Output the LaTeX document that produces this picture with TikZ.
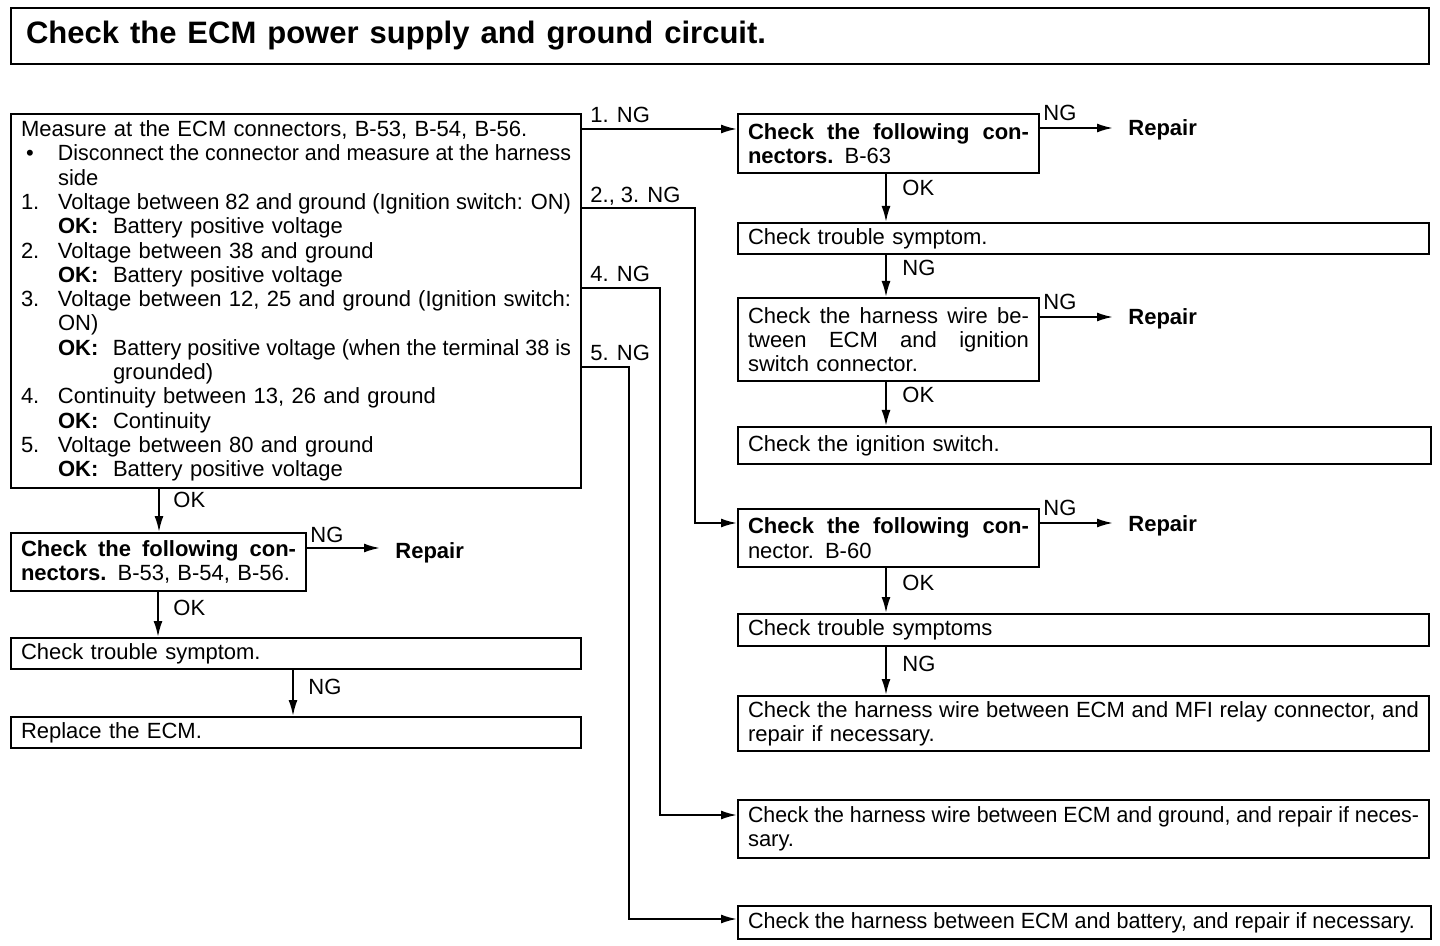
\documentclass[tikz,border=0pt]{standalone}
\usepackage{fontspec}
\usepackage{graphicx}
\setmainfont{Liberation Sans}
\usetikzlibrary{arrows.meta}
\newsavebox{\fitbox}
\newcommand{\fitj}[2]{\sbox{\fitbox}{\spaceskip=0pt\xspaceskip=0pt #2}\ifdim\wd\fitbox>#1\relax\resizebox{#1}{\height}{\usebox{\fitbox}}\else\makebox[#1][s]{\spaceskip=0pt\xspaceskip=0pt #2}\fi}
\newcommand{\mi}[2]{\makebox[18.5pt][l]{#1}#2}
\newcommand{\okl}{\makebox[27.5pt][l]{\textbf{OK:}}}
\begin{document}
\begin{tikzpicture}[x=0.5pt,y=-0.5pt,
  box/.style={draw, line width=1pt, anchor=north west, inner xsep=5pt, inner ysep=0pt, align=left, font=\fontsize{11pt}{12.15pt}\selectfont},
  lbl/.style={anchor=base west, inner sep=0pt, font=\fontsize{11pt}{13pt}\selectfont},
  blbl/.style={lbl, font=\fontsize{11pt}{13pt}\selectfont\bfseries},
  arr/.style={line width=1pt, -{Latex[length=8pt,width=4.5pt]}},
  wire/.style={line width=1pt}]
\useasboundingbox (0,0) rectangle (1440,946);

% title
\node[box, inner xsep=7.5pt, minimum width=709pt, minimum height=28pt, text width=694pt,
  font=\fontsize{15.5pt}{18pt}\selectfont\bfseries] (title) at (10,7)
  {\fitj{370pt}{Check the ECM power supply and ground circuit.}};

% main box
\node[box, minimum width=285pt, minimum height=187pt, text width=275pt] (main) at (10,113) {%
Measure at the ECM connectors, B-53, B-54, B-56.\\
\mi{\hspace*{2.5pt}\textbullet}{\fitj{256.5pt}{Disconnect the connector and measure at the harness}}\\
\mi{}{side}\\
\mi{1.}{\fitj{256.5pt}{Voltage between 82 and ground (Ignition switch: ON)}}\\
\mi{}{\okl Battery positive voltage}\\
\mi{2.}{Voltage between 38 and ground}\\
\mi{}{\okl Battery positive voltage}\\
\mi{3.}{\fitj{256.5pt}{Voltage between 12, 25 and ground (Ignition switch:}}\\
\mi{}{ON)}\\
\mi{}{\okl\fitj{229pt}{Battery positive voltage (when the terminal 38 is}}\\
\mi{}{\hspace*{27.5pt}grounded)}\\
\mi{4.}{Continuity between 13, 26 and ground}\\
\mi{}{\okl Continuity}\\
\mi{5.}{Voltage between 80 and ground}\\
\mi{}{\okl Battery positive voltage}};

% left column
\node[box, minimum width=147.5pt, minimum height=29pt, text width=137.5pt] (b53) at (10,532)
  {\fitj{137.5pt}{\textbf{Check the following con-}}\\\textbf{nectors.} B-53, B-54, B-56.};
\node[box, minimum width=285pt, minimum height=15.5pt, text width=275pt] (ctsL) at (10,637)
  {Check trouble symptom.};
\node[box, minimum width=285pt, minimum height=15.5pt, text width=275pt] (rep) at (10,716)
  {Replace the ECM.};

% right column
\node[box, minimum width=150.5pt, minimum height=29.5pt, text width=140.5pt] (b63) at (737,113)
  {\fitj{140.5pt}{\textbf{Check the following con-}}\\\textbf{nectors.} B-63};
\node[box, minimum width=345.5pt, minimum height=15.5pt, text width=335.5pt] (cts1) at (737,222)
  {Check trouble symptom.};
\node[box, minimum width=150.5pt, minimum height=41.5pt, text width=140.5pt] (harn) at (737,297)
  {\fitj{140.5pt}{Check the harness wire be-}\\\fitj{140.5pt}{tween ECM and ignition}\\switch connector.};
\node[box, minimum width=346.5pt, minimum height=18.5pt, text width=336.5pt] (ign) at (737,426)
  {Check the ignition switch.};
\node[box, minimum width=150.5pt, minimum height=29pt, text width=140.5pt] (b60) at (737,508)
  {\fitj{140.5pt}{\textbf{Check the following con-}}\\nector. B-60};
\node[box, minimum width=345.5pt, minimum height=16pt, text width=335.5pt] (cts2) at (737,613)
  {Check trouble symptoms};
\node[box, minimum width=345.5pt, minimum height=27.5pt, text width=335.5pt] (mfi) at (737,695)
  {\fitj{335.5pt}{Check the harness wire between ECM and MFI relay connector, and}\\repair if necessary.};
\node[box, minimum width=345.5pt, minimum height=29pt, text width=335.5pt] (gnd) at (737,799)
  {\fitj{335.5pt}{Check the harness wire between ECM and ground, and repair if neces-}\\sary.};
\node[box, minimum width=346.5pt, minimum height=16.5pt, text width=336.5pt] (bat) at (737,905)
  {\fitj{333.5pt}{Check the harness between ECM and battery, and repair if necessary.}};

% repair labels
\node[blbl] (r1) at (1128,136) {Repair};
\node[blbl] (r2) at (1128,325) {Repair};
\node[blbl] (r3) at (1128,531) {Repair};
\node[blbl] (r4) at (395,558) {Repair};

% connector labels
\node[lbl] (l1) at (590,123) {1. NG};
\node[lbl] (l23) at (590,203) {2., 3. NG};
\node[lbl] (l4) at (590,282) {4. NG};
\node[lbl] (l5) at (590,361) {5. NG};
\node[lbl] (n1) at (1043,121) {NG};
\node[lbl] (n2) at (1043,310) {NG};
\node[lbl] (n3) at (1043,516) {NG};
\node[lbl] (n4) at (310,542) {NG};
\node[lbl] (o1) at (173,508) {OK};
\node[lbl] (o2) at (173,615) {OK};
\node[lbl] (n5) at (308,694) {NG};
\node[lbl] (o3) at (902,196) {OK};
\node[lbl] (n6) at (902,276) {NG};
\node[lbl] (o4) at (902,403) {OK};
\node[lbl] (o5) at (902,590) {OK};
\node[lbl] (n7) at (902,671) {NG};

% bend points
\coordinate (k23) at (695,208);
\coordinate (k4) at (660,288);
\coordinate (k5) at (629,367);

% connectors from main box
\draw[arr] (main.east |- 0,129) -- (b63.west |- 0,129);
\draw[arr] (main.east |- k23) -- (k23) |- (b60.west |- 0,523);
\draw[arr] (main.east |- k4) -- (k4) |- (gnd.west |- 0,815);
\draw[arr] (main.east |- k5) -- (k5) |- (bat.west |- 0,919);

% NG -> Repair
\draw[arr, shorten >=7.5pt] (b63.east |- 0,128) -- (r1.west |- 0,128);
\draw[arr, shorten >=7.5pt] (harn.east |- 0,317) -- (r2.west |- 0,317);
\draw[arr, shorten >=7.5pt] (b60.east |- 0,523) -- (r3.west |- 0,523);
\draw[arr, shorten >=7.5pt] (b53.east |- 0,548) -- (r4.west |- 0,548);

% vertical flow
\draw[arr] (main.south -| 159,0) -- (b53.north -| 159,0);
\draw[arr] (b53.south -| 158,0) -- (ctsL.north -| 158,0);
\draw[arr] (ctsL.south -| 293,0) -- (rep.north -| 293,0);
\draw[arr] (b63.south -| 886,0) -- (cts1.north -| 886,0);
\draw[arr] (cts1.south -| 886,0) -- (harn.north -| 886,0);
\draw[arr] (harn.south -| 886,0) -- (ign.north -| 886,0);
\draw[arr] (b60.south -| 886,0) -- (cts2.north -| 886,0);
\draw[arr] (cts2.south -| 886,0) -- (mfi.north -| 886,0);
\end{tikzpicture}
\end{document}
